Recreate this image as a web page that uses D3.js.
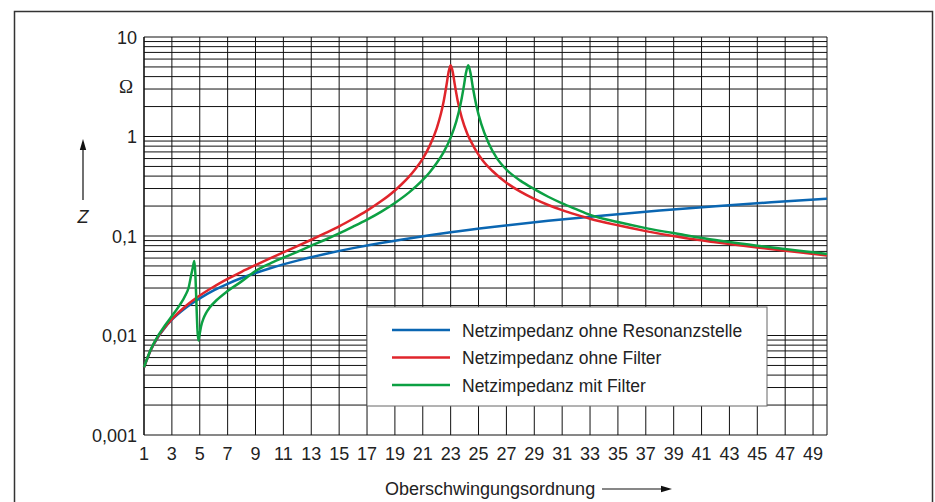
<!DOCTYPE html>
<html>
<head>
<meta charset="utf-8">
<script src="https://cdn.jsdelivr.net/npm/d3@7"></script>
<style>
  html, body { margin: 0; padding: 0; background: #fff; }
  svg text { font-family: "Liberation Sans", Arial, sans-serif; fill: #222; }
</style>
</head>
<body>
<svg id="chart" width="935" height="502"></svg>
<script>
// harmonic order ticks (odd orders) and decade labels
const xTicks = d3.range(1, 50, 2);
const yDecades = [0.001, 0.01, 0.1, 1, 10];
const yLabels = ['0,001', '0,01', '0,1', '1', '10'];

// Netzimpedanz ohne Resonanzstelle
const blueOrders = [1, 1.5, 2, 2.5, 3, 4, 5, 6, 7, 8, 9, 10, 12, 14, 16, 18, 20, 23, 26, 30, 34, 38, 42, 46, 50];
const blueZ = [0.0048, 0.0072, 0.0096, 0.012, 0.0144, 0.019, 0.0236, 0.0284, 0.0331, 0.0378, 0.0425, 0.0472,
  0.0566, 0.066, 0.0755, 0.085, 0.0945, 0.109, 0.123, 0.142, 0.161, 0.18, 0.199, 0.218, 0.237];

// Netzimpedanz ohne Filter
const redOrders = [1, 1.5, 2, 2.5, 3, 4, 5, 6, 7, 8, 9, 10, 11, 12, 13, 14, 15, 16, 17, 18, 19, 19.5, 20, 20.5,
  21, 21.5, 22, 22.3, 22.5, 22.7, 22.85, 23, 23.15, 23.3, 23.5, 23.8, 24.2, 24.7, 25.3, 26, 27, 28, 29, 30,
  31, 32, 33, 35, 37, 39.5, 42, 45, 48, 50];
const redZ = [0.0048, 0.00723, 0.00967, 0.0121, 0.0146, 0.0198, 0.0252, 0.0309, 0.037, 0.0437, 0.051, 0.0592,
  0.0685, 0.0791, 0.0917, 0.107, 0.125, 0.149, 0.18, 0.223, 0.287, 0.333, 0.393, 0.477, 0.60, 0.81, 1.21,
  1.69, 2.26, 3.27, 4.43, 5.2, 4.44, 3.3, 2.3, 1.54, 1.06, 0.77, 0.575, 0.45, 0.343, 0.279, 0.236, 0.205,
  0.182, 0.164, 0.149, 0.128, 0.112, 0.097, 0.0865, 0.0765, 0.0688, 0.0635];

// Netzimpedanz mit Filter
const greenOrders = [1, 1.5, 2, 2.5, 3, 3.5, 4, 4.2, 4.4, 4.5, 4.61, 4.9, 5.0, 5.1, 5.25, 5.45, 5.7, 6.2, 7, 8,
  9, 10, 11, 12, 13, 14, 15, 16, 17, 18, 19, 20, 21, 21.5, 22, 22.5, 23, 23.4, 23.7, 23.95, 24.1, 24.26,
  24.42, 24.6, 24.85, 25.2, 25.7, 26.3, 27, 28, 29, 30, 31, 32, 33, 35, 37, 39.5, 42, 45, 48, 50];
const greenZ = [0.0048, 0.0073, 0.0099, 0.0126, 0.0157, 0.0196, 0.0258, 0.0302, 0.0415, 0.048, 0.056, 0.0089,
  0.0105, 0.0125, 0.0146, 0.0168, 0.019, 0.0226, 0.028, 0.035, 0.0445, 0.0526, 0.0605, 0.0694, 0.08, 0.0917,
  0.106, 0.124, 0.146, 0.175, 0.215, 0.273, 0.366, 0.438, 0.541, 0.697, 0.975, 1.41, 2.08, 3.23, 4.36, 5.2,
  4.37, 3.07, 2.03, 1.33, 0.87, 0.61, 0.465, 0.36, 0.296, 0.248, 0.213, 0.186, 0.163, 0.138, 0.12, 0.104,
  0.091, 0.08, 0.071, 0.066];

const seriesNames = ['Netzimpedanz ohne Resonanzstelle', 'Netzimpedanz ohne Filter', 'Netzimpedanz mit Filter'];
const seriesColors = ['#0a66b2', '#e0252b', '#0ca043'];

const svg = d3.select('#chart');
const plot = { left: 144, right: 827, top: 37, bottom: 435 };

const x = d3.scaleLinear().domain([1, 50]).range([plot.left, plot.right]);
const y = d3.scaleLog().domain([0.001, 10]).range([plot.bottom, plot.top]);

// outer frame (bottom edge runs off the page)
svg.append('rect')
  .attr('x', 14.5).attr('y', 11.5)
  .attr('width', 918).attr('height', 520)
  .attr('fill', 'none').attr('stroke', '#333').attr('stroke-width', 1.5);

// log paper grid
const minorVals = [];
yDecades.slice(0, -1).forEach(d => {
  for (let k = 1; k <= 9; k++) minorVals.push(d * k);
});
minorVals.push(10);

const grid = svg.append('g').attr('class', 'grid');
grid.selectAll('line.h').data(minorVals).join('line')
  .attr('class', 'h')
  .attr('x1', plot.left).attr('x2', plot.right)
  .attr('y1', d => y(d)).attr('y2', d => y(d))
  .attr('stroke', '#111').attr('stroke-width', 1);

grid.selectAll('line.v').data(xTicks.concat([50])).join('line')
  .attr('class', 'v')
  .attr('x1', d => x(d)).attr('x2', d => x(d))
  .attr('y1', plot.top).attr('y2', plot.bottom)
  .attr('stroke', '#111').attr('stroke-width', d => d === 1 ? 1.6 : 1);

// x tick labels
svg.append('g').selectAll('text').data(xTicks).join('text')
  .attr('x', d => x(d)).attr('y', 459.5)
  .attr('text-anchor', 'middle')
  .attr('font-size', 18)
  .text(d => d);

// y tick labels
svg.append('g').selectAll('text').data(yDecades).join('text')
  .attr('x', 137).attr('y', d => y(d) + 6.5)
  .attr('text-anchor', 'end')
  .attr('font-size', 18)
  .text((d, i) => yLabels[i]);

svg.append('text')
  .attr('x', 126).attr('y', 93)
  .attr('text-anchor', 'middle')
  .attr('font-size', 19)
  .style('font-family', '"Liberation Serif", "DejaVu Serif", serif')
  .text('Ω');

// y axis label with arrow
svg.append('text')
  .attr('x', 83).attr('y', 223)
  .attr('text-anchor', 'middle')
  .attr('font-size', 18)
  .attr('font-style', 'italic')
  .text('Z');
svg.append('line')
  .attr('x1', 83).attr('x2', 83).attr('y1', 200).attr('y2', 148)
  .attr('stroke', '#111').attr('stroke-width', 1.2);
svg.append('path')
  .attr('d', 'M83,139 L79.8,150 L86.2,150 Z')
  .attr('fill', '#111');

// x axis label with arrow
svg.append('text')
  .attr('x', 385).attr('y', 494.5)
  .attr('font-size', 18)
  .text('Oberschwingungsordnung');
svg.append('line')
  .attr('x1', 602).attr('x2', 662).attr('y1', 489).attr('y2', 489)
  .attr('stroke', '#111').attr('stroke-width', 1.2);
svg.append('path')
  .attr('d', 'M672,489 L661,485.8 L661,492.2 Z')
  .attr('fill', '#111');

// curves
const series = [
  blueOrders.map((n, i) => [n, blueZ[i]]),
  redOrders.map((n, i) => [n, redZ[i]]),
  greenOrders.map((n, i) => [n, greenZ[i]])
];

const line = d3.line()
  .x(d => x(d[0]))
  .y(d => y(d[1]))
  .curve(d3.curveMonotoneX);

svg.append('g').selectAll('path').data(series).join('path')
  .attr('d', line)
  .attr('fill', 'none')
  .attr('stroke', (d, i) => seriesColors[i])
  .attr('stroke-width', 2.5)
  .attr('stroke-linejoin', 'round');

// legend
const legend = svg.append('g');
legend.append('rect')
  .attr('x', 367).attr('y', 307)
  .attr('width', 400).attr('height', 99)
  .attr('fill', '#fff').attr('stroke', '#666').attr('stroke-width', 1);

const rows = legend.selectAll('g.row').data(seriesNames).join('g')
  .attr('class', 'row')
  .attr('transform', (d, i) => `translate(0,${330 + i * 27.5})`);
rows.append('line')
  .attr('x1', 392).attr('x2', 450)
  .attr('stroke', (d, i) => seriesColors[i])
  .attr('stroke-width', 2.5);
rows.append('text')
  .attr('x', 462).attr('y', 6.5)
  .attr('font-size', 17.5)
  .text(d => d);
</script>
</body>
</html>
